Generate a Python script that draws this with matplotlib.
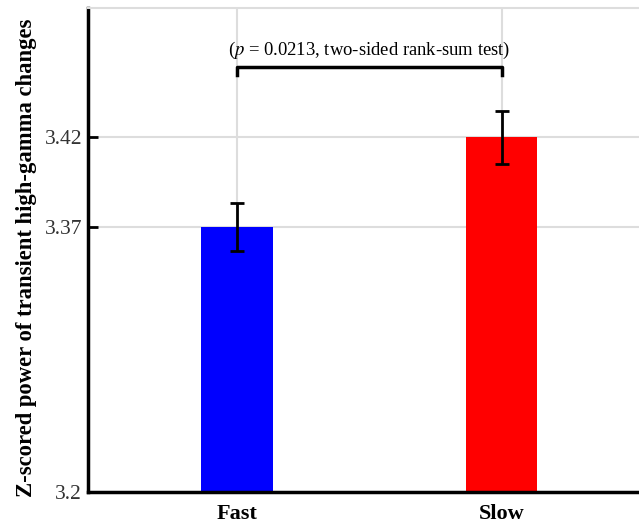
import numpy as np
import matplotlib
matplotlib.use("Agg")
import matplotlib.pyplot as plt

plt.rcParams['font.family'] = ['Liberation Serif', 'DejaVu Serif']
plt.rcParams['mathtext.fontset'] = 'stix'

# group means and standard errors
groups = ['Fast', 'Slow']
means = [3.37, 3.42]
errors = [0.0132, 0.0147]
colors = ['#0000ff', '#ff0000']
p_value = 0.0213

ymin, ymax = 3.222, 3.492
ytick_vals = [ymin, means[0], means[1]]
ytick_labels = ['3.2', '3.37', '3.42']

fig = plt.figure(figsize=(6.39, 5.27), dpi=100)
ax = fig.add_axes([0.137, 0.0655, 0.863, 0.9195])

x = np.arange(len(groups))
ax.bar(x, means, width=0.27, color=colors, zorder=2)
ax.errorbar(x, means, yerr=errors, fmt='none', ecolor='black',
            elinewidth=2, capsize=5, capthick=2, zorder=3)

ax.set_xlim(-0.566, 1.52)
ax.set_ylim(ymin, ymax)
ax.set_xticks(x)
ax.set_xticklabels(groups, fontsize=16, fontweight='bold')
ax.set_yticks(ytick_vals)
ax.set_yticklabels(ytick_labels, fontsize=15.5, color='#333333')
ax.tick_params(axis='y', direction='in', length=7, width=2, pad=4)
ax.tick_params(axis='x', length=0, pad=8)

ax.grid(True, color='#dddddd', linewidth=1.5, zorder=0)
ax.set_axisbelow(True)

for side in ['left', 'bottom']:
    ax.spines[side].set_linewidth(2.5)
    ax.spines[side].set_color('black')
ax.spines['right'].set_visible(False)
ax.spines['top'].set_color('#dddddd')
ax.spines['top'].set_linewidth(1.5)

ax.set_ylabel('Z-scored power of transient high-gamma changes',
              fontsize=16.3, fontweight='bold')
ax.yaxis.set_label_coords(-0.091, 0.484)

# significance bracket
yb, yt = 3.4546, 3.4589
ax.plot([x[0], x[0], x[1], x[1]], [yb, yt, yt, yb], color='black',
        linewidth=2.5, zorder=4, clip_on=False)
ax.text((x[0] + x[1]) / 2, 3.4685,
        '($p$ = %.4f, two-sided rank-sum test)' % p_value,
        ha='center', va='center', fontsize=13.4)

fig.savefig('out.png', dpi=100)
